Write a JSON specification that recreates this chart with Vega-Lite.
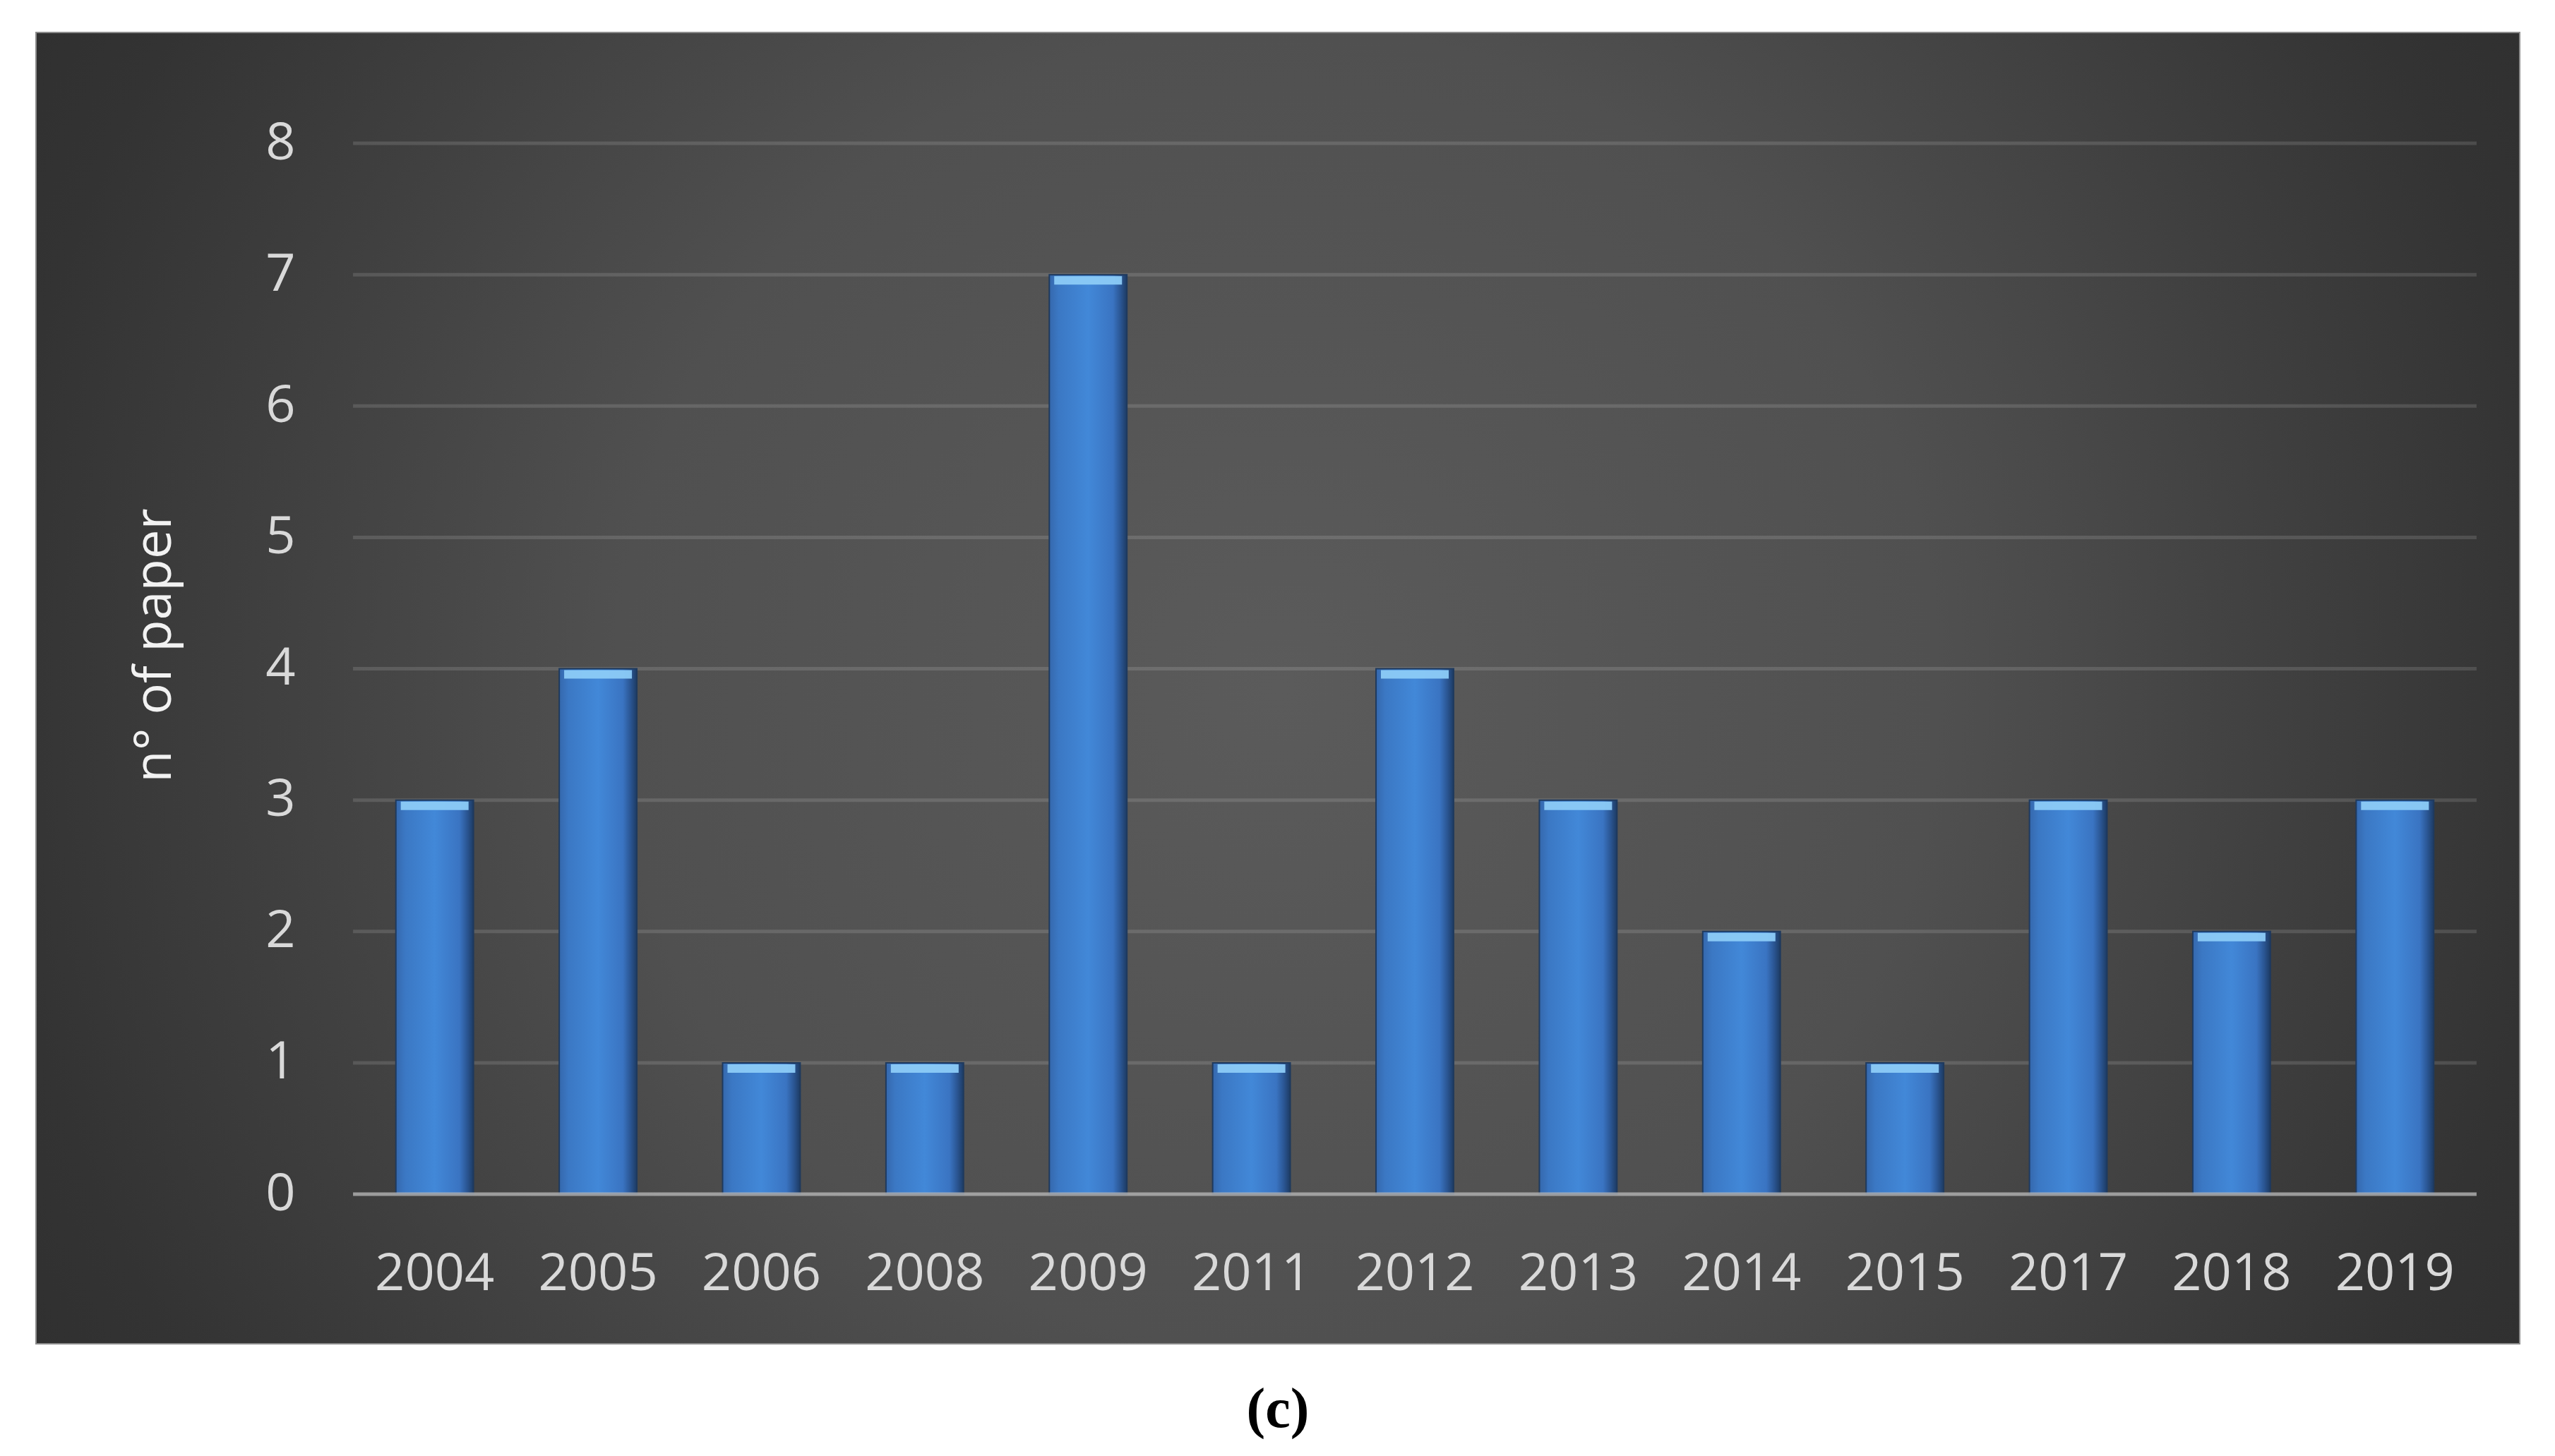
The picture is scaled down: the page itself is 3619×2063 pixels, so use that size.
{
  "$schema": "https://vega.github.io/schema/vega-lite/v6.json",
  "width": 3518,
  "height": 1858,
  "autosize": {"type": "none"},
  "padding": {"left": 51, "top": 46, "right": 50, "bottom": 159},
  "background": "#ffffff",
  "view": {
    "fill": {
      "gradient": "radial",
      "x1": 0.5, "y1": 0.5, "r1": 0,
      "x2": 0.5, "y2": 0.5, "r2": 0.7,
      "stops": [
        {"offset": 0, "color": "#5b5b5b"},
        {"offset": 0.38, "color": "#505050"},
        {"offset": 0.74, "color": "#333333"},
        {"offset": 1, "color": "#282828"}
      ]
    },
    "stroke": "#8c8c8c",
    "strokeWidth": 2
  },
  "config": {
    "font": "Open Sans",
    "axis": {"grid": false, "domain": false, "ticks": false, "tickSize": 0}
  },
  "title": {
    "text": "(c)",
    "orient": "bottom",
    "anchor": "middle",
    "font": "Liberation Serif",
    "fontSize": 80,
    "fontWeight": "bold",
    "color": "#000000",
    "baseline": "middle",
    "offset": 94
  },
  "datasets": {
    "papers": [
      {"year": "2004", "papers": 3},
      {"year": "2005", "papers": 4},
      {"year": "2006", "papers": 1},
      {"year": "2008", "papers": 1},
      {"year": "2009", "papers": 7},
      {"year": "2011", "papers": 1},
      {"year": "2012", "papers": 4},
      {"year": "2013", "papers": 3},
      {"year": "2014", "papers": 2},
      {"year": "2015", "papers": 1},
      {"year": "2017", "papers": 3},
      {"year": "2018", "papers": 2},
      {"year": "2019", "papers": 3}
    ],
    "grid": [
      {"level": 1}, {"level": 2}, {"level": 3}, {"level": 4},
      {"level": 5}, {"level": 6}, {"level": 7}, {"level": 8}
    ],
    "base": [{"level": 0}]
  },
  "layer": [
    {
      "data": {"name": "grid"},
      "mark": {"type": "rule", "stroke": "#ffffff", "strokeOpacity": 0.13, "strokeWidth": 5},
      "encoding": {
        "y": {"field": "level", "type": "quantitative", "scale": {"domain": [-1.139, 8.844], "nice": false, "zero": false}},
        "x": {"datum": "2004", "type": "ordinal", "bandPosition": -0.552,
              "scale": {"domain": ["2004","2005","2006","2008","2009","2011","2012","2013","2014","2015","2017","2018","2019"], "range": [449, 3457], "paddingInner": 0.525, "paddingOuter": 0.2625}},
        "x2": {"datum": "2019", "bandPosition": 1.552}
      }
    },
    {
      "data": {"name": "papers"},
      "mark": {
        "type": "bar",
        "fill": {
          "gradient": "linear",
          "x1": 0, "y1": 0, "x2": 1, "y2": 0,
          "stops": [
            {"offset": 0, "color": "#3568ad"},
            {"offset": 0.12, "color": "#3b78c4"},
            {"offset": 0.5, "color": "#4288d8"},
            {"offset": 0.82, "color": "#3a74c2"},
            {"offset": 0.92, "color": "#2a5592"},
            {"offset": 1, "color": "#1d3b63"}
          ]
        },
        "stroke": "#1f3a5e",
        "strokeWidth": 2
      },
      "encoding": {
        "x": {
          "field": "year",
          "type": "ordinal",
          "scale": {
            "domain": ["2004","2005","2006","2008","2009","2011","2012","2013","2014","2015","2017","2018","2019"],
            "range": [449, 3457],
            "paddingInner": 0.525,
            "paddingOuter": 0.2625
          },
          "axis": {
            "orient": "bottom",
            "offset": -99,
            "bandPosition": 0.5,
            "domain": false,
            "ticks": false,
            "tickSize": 0,
            "grid": false,
            "labelPadding": 0,
            "labelAlign": "center",
            "labelBaseline": "middle",
            "labelAngle": 0,
            "labelFontSize": 74,
            "labelColor": "#d9d9d9",
            "title": null
          }
        },
        "y": {
          "field": "papers",
          "type": "quantitative",
          "scale": {"domain": [-1.139, 8.844], "nice": false, "zero": false},
          "axis": {
            "orient": "left",
            "offset": -367,
            "values": [0, 1, 2, 3, 4, 5, 6, 7, 8],
            "format": "d",
            "domain": false,
            "ticks": false,
            "tickSize": 0,
            "grid": false,
            "labelPadding": 0,
            "labelFontSize": 74,
            "labelColor": "#d9d9d9",
            "title": "n° of paper",
            "titleFontSize": 74,
            "titleFontWeight": "normal",
            "titleColor": "#f2f2f2",
            "titlePadding": 118,
            "titleBaseline": "bottom",
            "titleY": 868
          }
        },
        "y2": {"datum": 0}
      }
    },
    {
      "data": {"name": "papers"},
      "mark": {"type": "tick", "color": "#8ccbf7", "thickness": 12, "size": 96, "yOffset": 8, "opacity": 0.95},
      "encoding": {
        "x": {"field": "year", "type": "ordinal"},
        "y": {"field": "papers", "type": "quantitative"}
      }
    },
    {
      "data": {"name": "base"},
      "mark": {"type": "rule", "stroke": "#b4b4b4", "strokeOpacity": 0.8, "strokeWidth": 5},
      "encoding": {
        "y": {"field": "level", "type": "quantitative"},
        "x": {"datum": "2004", "type": "ordinal", "bandPosition": -0.552},
        "x2": {"datum": "2019", "bandPosition": 1.552}
      }
    }
  ]
}
